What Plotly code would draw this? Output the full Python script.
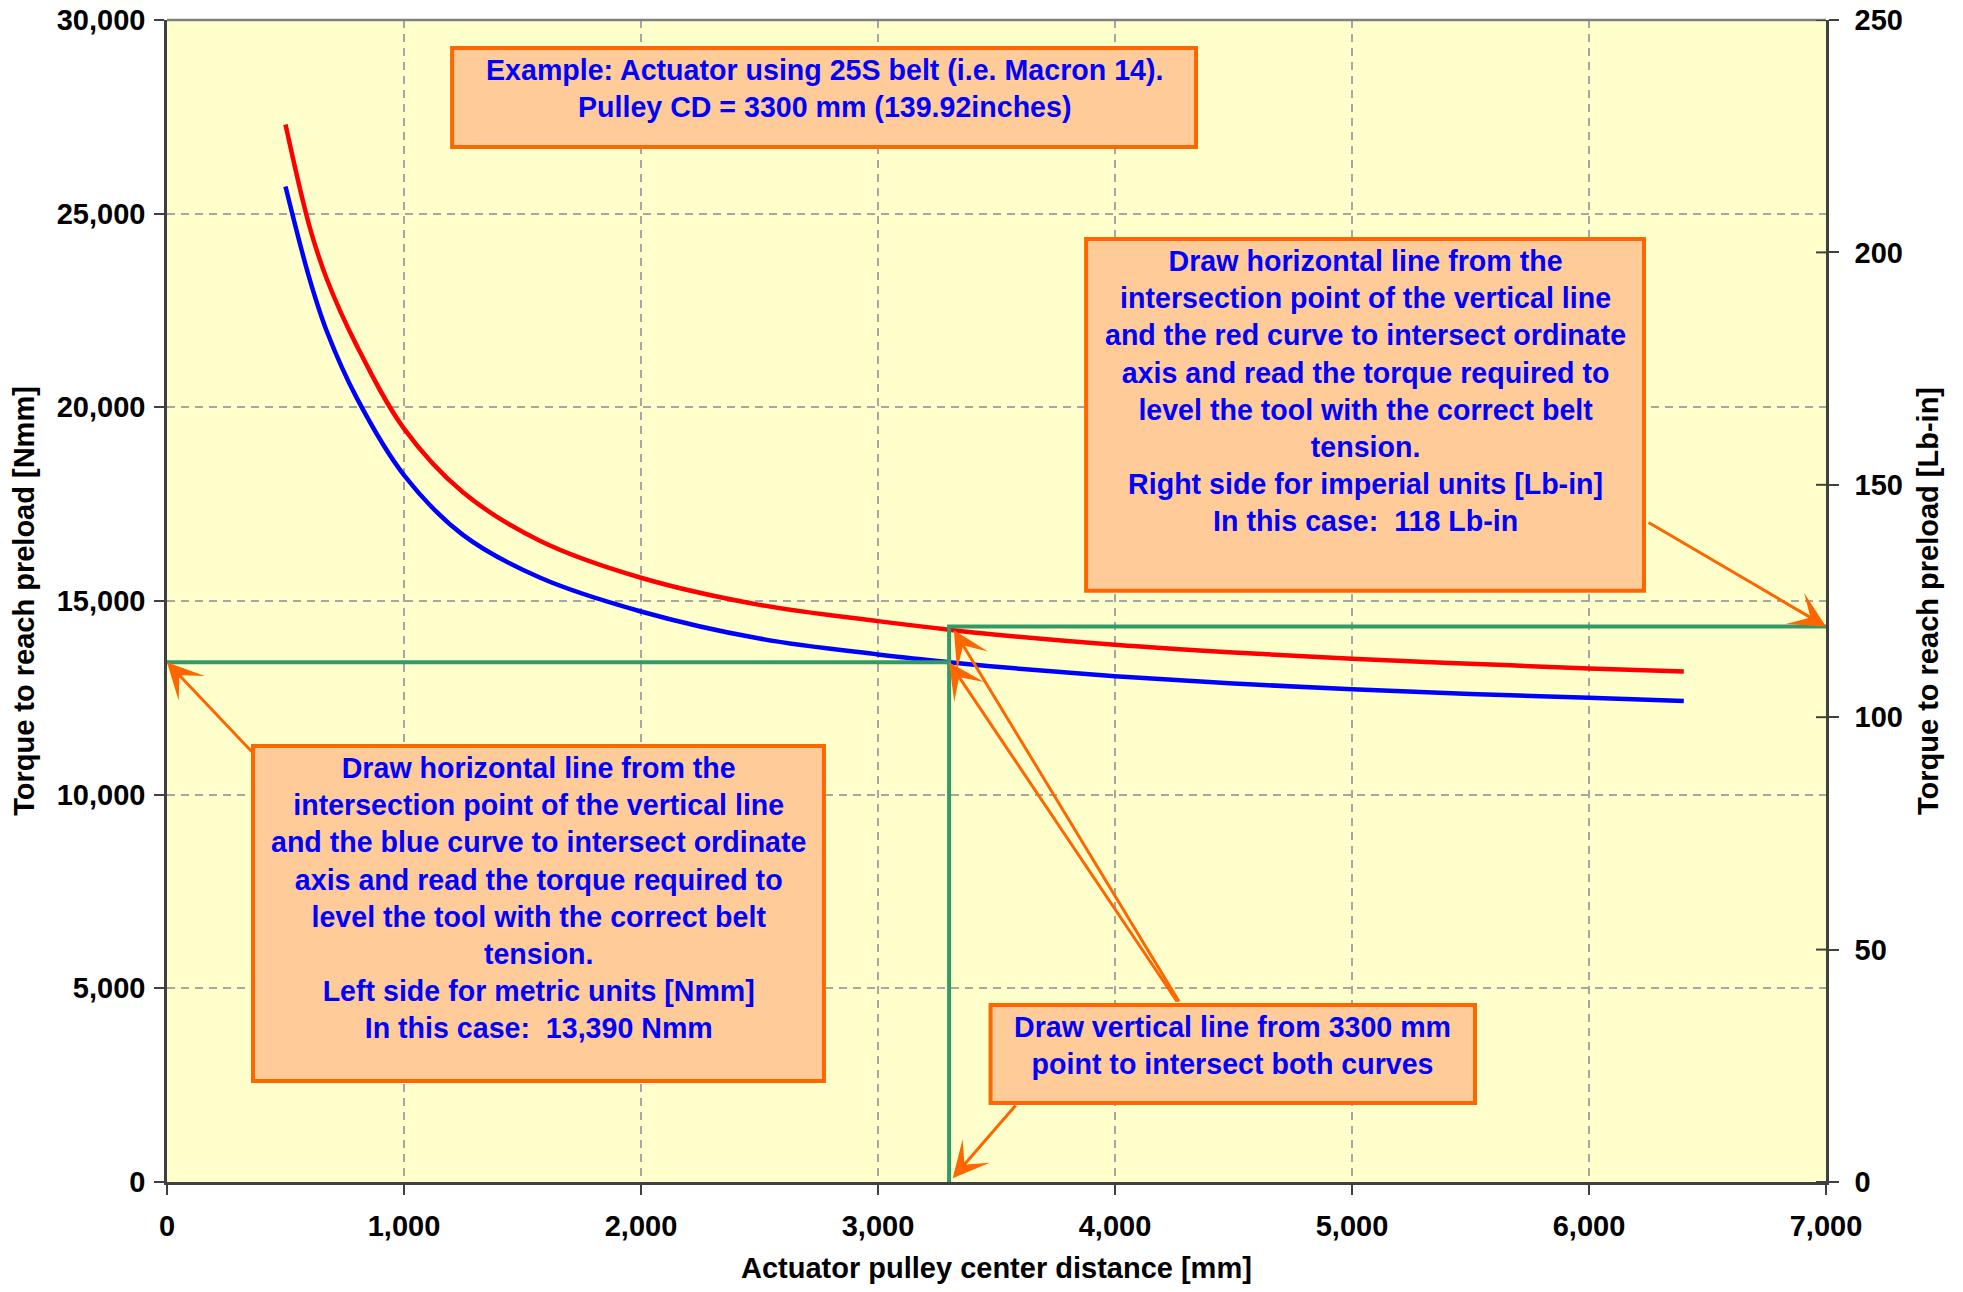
import plotly.graph_objects as go

# curve data (actuator pulley CD [mm] vs torque [Nmm])
cd_mm = [500, 600, 675, 800, 1000, 1250, 1575, 2000, 2500, 3000, 3300,
         3500, 4000, 4500, 5000, 5500, 6000, 6400]
torque_red = [27300, 24700, 23300, 21600, 19450, 17800, 16550, 15600, 14900,
              14480, 14260, 14130, 13870, 13670, 13510, 13380, 13260, 13180]
torque_blue = [25700, 23350, 21950, 20250, 18250, 16700, 15600, 14730, 14030,
               13620, 13420, 13300, 13060, 12870, 12720, 12600, 12500, 12420]

# worked example
example_cd = 3300
blue_read_nmm = 13420
red_read_lbin = 119.5

X_MAX = 7000
Y_MAX = 30000
Y2_MAX = 250
Y2_DTICK = 50
RATIO = Y_MAX / Y2_MAX

FONT = "Liberation Sans, Arial, sans-serif"
ORANGE = "#FF6600"
BOX_FILL = "#FFCC99"
GREEN = "#339966"
TEXT_BLUE = "#0000FF"
AXIS_GREY = "#404040"

fig = go.Figure()

fig.add_trace(go.Scatter(x=cd_mm, y=torque_red, mode="lines",
                         line=dict(color="#FF0000", width=4.5, shape="spline"),
                         hoverinfo="skip"))
fig.add_trace(go.Scatter(x=cd_mm, y=torque_blue, mode="lines",
                         line=dict(color="#0000FF", width=4.5, shape="spline"),
                         hoverinfo="skip"))

# guide lines
fig.add_trace(go.Scatter(x=[0, example_cd], y=[blue_read_nmm, blue_read_nmm],
                         mode="lines", line=dict(color=GREEN, width=4),
                         hoverinfo="skip"))
fig.add_trace(go.Scatter(x=[example_cd, example_cd, X_MAX],
                         y=[0, red_read_lbin, red_read_lbin], yaxis="y2",
                         mode="lines", line=dict(color=GREEN, width=4),
                         hoverinfo="skip"))

# note boxes: (x0, x1, y0, y1, text)
boxes = [
    (1203, 4342, 26724, 29280,
     "Example: Actuator using 25S belt (i.e. Macron 14).<br>"
     "Pulley CD = 3300 mm (139.92inches)"),
    (3878, 6232, 15267, 24348,
     "Draw horizontal line from the<br>intersection point of the vertical line<br>"
     "and the red curve to intersect ordinate<br>axis and read the torque required to<br>"
     "level the tool with the correct belt<br>tension.<br>"
     "Right side for imperial units [Lb-in]<br>In this case:\u00a0 118 Lb-in"),
    (363, 2772, 2608, 11258,
     "Draw horizontal line from the<br>intersection point of the vertical line<br>"
     "and the blue curve to intersect ordinate<br>axis and read the torque required to<br>"
     "level the tool with the correct belt<br>tension.<br>"
     "Left side for metric units [Nmm]<br>In this case:\u00a0 13,390 Nmm"),
    (3475, 5519, 2040, 4570,
     "Draw vertical line from 3300 mm<br>point to intersect both curves"),
]

shapes = []
annotations = []
for x0, x1, y0, y1, text in boxes:
    shapes.append(dict(type="rect", xref="x", yref="y", x0=x0, x1=x1, y0=y0, y1=y1,
                       fillcolor=BOX_FILL, line=dict(color=ORANGE, width=4),
                       layer="above"))
    annotations.append(dict(x=(x0 + x1) / 2, y=y1, xref="x", yref="y",
                            yanchor="top", xanchor="center", yshift=-4,
                            text=text, showarrow=False, align="center",
                            font=dict(family=FONT, size=28.6, color=TEXT_BLUE,
                                      weight="bold")))

# top border of the plot area
shapes.append(dict(type="line", xref="paper", yref="paper", x0=0, x1=1, y0=1, y1=1,
                   line=dict(color="#808080", width=2.5)))

# right axis ticks cross the axis line: add the inner half
for v in range(0, Y2_MAX + 1, Y2_DTICK):
    shapes.append(dict(type="line", xref="paper", yref="y2", xsizemode="pixel",
                       xanchor=1, x0=-10, x1=0, y0=v, y1=v,
                       line=dict(color=AXIS_GREY, width=2)))

# arrows: (head x, head y, tail x, tail y)
arrows = [
    (0, blue_read_nmm, 363, 11077),
    (X_MAX, red_read_lbin * RATIO, 6245, 17050),
    (example_cd + 20, 14250, 4274, 4622),
    (example_cd, blue_read_nmm, 4266, 4622),
    (example_cd + 15, 100, 3586, 2014),
]
for hx, hy, tx, ty in arrows:
    annotations.append(dict(x=hx, y=hy, ax=tx, ay=ty, xref="x", yref="y",
                            axref="x", ayref="y", text="", showarrow=True,
                            arrowhead=3, arrowsize=2, arrowwidth=3,
                            arrowcolor=ORANGE))

tick_font = dict(family=FONT, size=29, color="#000000", weight="bold")
title_font = dict(family=FONT, size=29, color="#000000", weight="bold")

# x axis title placed as an annotation so it can sit low in the margin
annotations.append(dict(text="Actuator pulley center distance [mm]",
                        xref="paper", yref="paper", x=0.5, y=0,
                        xanchor="center", yanchor="middle", yshift=-86,
                        showarrow=False, font=title_font))

axis_common = dict(zeroline=False, showline=True, linecolor=AXIS_GREY, linewidth=2.5,
                   ticks="outside", ticklen=10, tickcolor=AXIS_GREY, tickwidth=2,
                   tickfont=tick_font, automargin=False, ticklabeloverflow="allow")

fig.update_layout(
    width=1947,
    height=1276,
    margin=dict(l=159, r=129, t=12, b=102),
    paper_bgcolor="white",
    plot_bgcolor="#FFFFCC",
    showlegend=False,
    shapes=shapes,
    annotations=annotations,
    xaxis=dict(range=[0, X_MAX], dtick=1000, tickformat=",",
               showgrid=True, gridcolor="#A6A6A6", gridwidth=1.5,
               griddash="8px,6px", ticklabelstandoff=6,
               **axis_common),
    yaxis=dict(range=[0, Y_MAX], dtick=5000, tickformat=",",
               showgrid=True, gridcolor="#A6A6A6", gridwidth=1.5,
               griddash="8px,6px", ticklabelstandoff=3,
               title=dict(text="Torque to reach preload [Nmm]",
                          font=title_font, standoff=25),
               **axis_common),
    yaxis2=dict(range=[0, Y2_MAX], dtick=Y2_DTICK, overlaying="y", side="right",
                showgrid=False, ticklabelstandoff=10,
                title=dict(text="Torque to reach preload [Lb-in]",
                           font=title_font, standoff=16),
                **axis_common),
)

fig.write_html("out.html")
